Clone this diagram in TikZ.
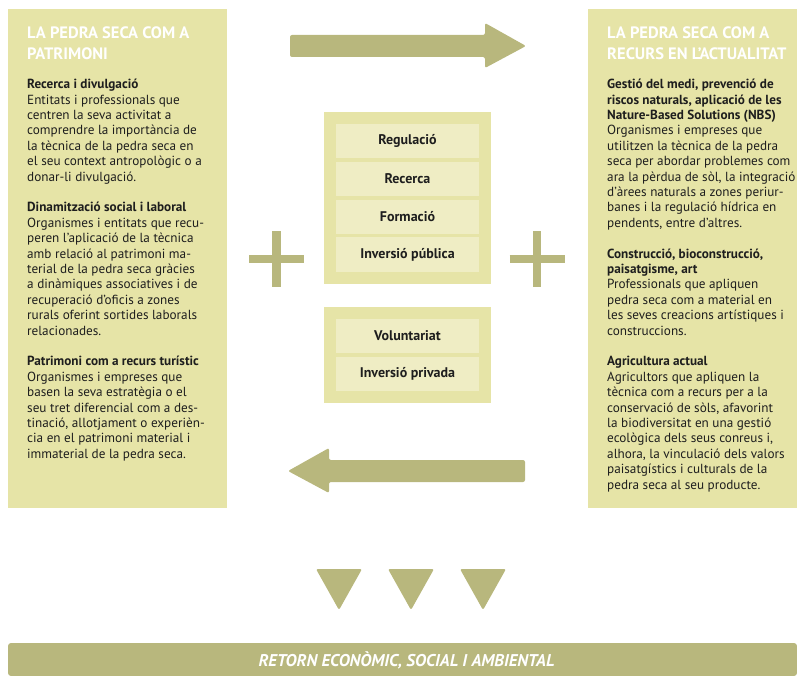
\documentclass[tikz,border=0pt]{standalone}
\usepackage{fontspec}
\setmainfont{PT Sans}
\usetikzlibrary{positioning,fit,backgrounds}

\definecolor{panelcol}{RGB}{230,228,167}
\definecolor{rowcol}{RGB}{239,237,196}
\definecolor{olive}{RGB}{184,183,125}
\definecolor{inkcol}{RGB}{30,30,30}

\newcommand{\toprule}[1]{\rule{0pt}{#1}}

\begin{document}
\begin{tikzpicture}[
    x=1pt, y=-1pt,
    panel/.style={rectangle, fill=panelcol, inner sep=0pt, anchor=north west},
    head/.style={anchor=north west, inner sep=0pt, align=left, text=white, font=\fontsize{16.5}{20.5}\selectfont\bfseries},
    body/.style={anchor=north west, inner sep=0pt, align=left, text=inkcol, font=\fontsize{13.2}{15.4}\selectfont},
    row/.style={rectangle, fill=rowcol, minimum width=143pt, minimum height=34.5pt, inner sep=0pt, text=inkcol, font=\fontsize{14}{16}\selectfont\bfseries},
    group/.style={rectangle, fill=panelcol, inner xsep=11.5pt, inner ysep=12pt},
    plus/.style={draw=olive, line width=8.5pt},
    blob/.style={fill=olive, rounded corners=2pt}
]
\useasboundingbox (0,0) rectangle (797,676);

% side panels
\node[panel, minimum width=219pt, minimum height=499pt] (leftpanel) at (8,9) {};
\node[panel, minimum width=209pt, minimum height=499pt] (rightpanel) at (588,9) {};

% first line tops: baseline minus rule height
\node[head] (lefthead) at (27,23.5) {\toprule{15pt}LA PEDRA SECA COM A\\PATRIMONI};
\node[head] (righthead) at (607,23.5) {\toprule{15pt}LA PEDRA SECA COM A\\RECURS EN L’ACTUALITAT};

\node[body] (lefttext) at (27,76.5) {\toprule{12pt}\textbf{Recerca i divulgació}\\
Entitats i professionals que\\
centren la seva activitat a\\
comprendre la importància de\\
la tècnica de la pedra seca en\\
el seu context antropològic o a\\
donar-li divulgació.\\[15.4pt]
\textbf{Dinamització social i laboral}\\
Organismes i entitats que recu-\\
peren l’aplicació de la tècnica\\
amb relació al patrimoni ma-\\
terial de la pedra seca gràcies\\
a dinàmiques associatives i de\\
recuperació d’oficis a zones\\
rurals oferint sortides laborals\\
relacionades.\\[15.4pt]
\textbf{Patrimoni com a recurs turístic}\\
Organismes i empreses que\\
basen la seva estratègia o el\\
seu tret diferencial com a des-\\
tinació, allotjament o experièn-\\
cia en el patrimoni material i\\
immaterial de la pedra seca.};

\node[body] (righttext) at (607,76.5) {\toprule{12pt}\textbf{Gestió del medi, prevenció de}\\
\textbf{riscos naturals, aplicació de les}\\
\textbf{Nature-Based Solutions (NBS)}\\
Organismes i empreses que\\
utilitzen la tècnica de la pedra\\
seca per abordar problemes com\\
ara la pèrdua de sòl, la integració\\
d’àrees naturals a zones periur-\\
banes i la regulació hídrica en\\
pendents, entre d’altres.\\[15.4pt]
\textbf{Construcció, bioconstrucció,}\\
\textbf{paisatgisme, art}\\
Professionals que apliquen\\
pedra seca com a material en\\
les seves creacions artístiques i\\
construccions.\\[15.4pt]
\textbf{Agricultura actual}\\
Agricultors que apliquen la\\
tècnica com a recurs per a la\\
conservació de sòls, afavorint\\
la biodiversitat en una gestió\\
ecològica dels seus conreus i,\\
alhora, la vinculació dels valors\\
paisatgístics i culturals de la\\
pedra seca al seu producte.};

% middle groups
\node[row] (regulacio) at (407.5,141) {Regulació};
\node[row, below=3pt of regulacio] (recerca) {Recerca};
\node[row, below=3pt of recerca] (formacio) {Formació};
\node[row, below=3pt of formacio] (publica) {Inversió pública};

\node[row] (voluntariat) at (407.5,336) {Voluntariat};
\node[row, below=3pt of voluntariat] (privada) {Inversió privada};

\begin{scope}[on background layer]
\node[group, fit=(regulacio)(publica)] (publicgroup) {};
\node[group, fit=(voluntariat)(privada)] (privategroup) {};
\end{scope}

% arrows
\fill[blob] (290,35) -- (485,35) -- (485,23) -- (526,46) -- (485,68) -- (485,57) -- (290,57) -- cycle;
\fill[blob] (525,460) -- (329,460) -- (329,448) -- (288,471) -- (329,493) -- (329,482) -- (525,482) -- cycle;

% plus signs
\coordinate (plusL) at (276.5,259);
\coordinate (plusR) at (537,259);
\foreach \p in {plusL,plusR}
  \draw[plus] ([xshift=-27.5pt]\p) -- ([xshift=27.5pt]\p)
              ([yshift=-27.5pt]\p) -- ([yshift=27.5pt]\p);

% triangles
\foreach \cx in {339,411,483}
  \fill[blob] (\cx-23,569) -- (\cx+23,569) -- (\cx,610) -- cycle;

% bottom bar
\fill[olive, rounded corners=3pt] (8,643) rectangle (797,676);
\node[text=white, font=\fontsize{17}{20}\selectfont\bfseries\itshape] (retorn) at (406.5,660) {RETORN ECONÒMIC, SOCIAL I AMBIENTAL};

\end{tikzpicture}
\end{document}
